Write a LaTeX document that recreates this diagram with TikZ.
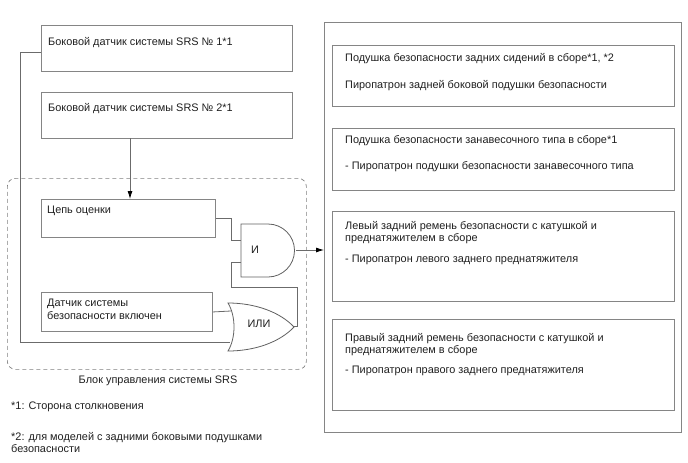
\documentclass[tikz,border=0pt]{standalone}
\usepackage{fontspec}
\setmainfont{Liberation Sans}
\usetikzlibrary{arrows.meta, positioning}

\begin{document}
\begin{tikzpicture}[
        x=1pt, y=-1pt,
        box node/.style={rectangle, draw=black!48, line width=0.9pt, inner sep=0pt, anchor=north west},
        label node/.style={inner sep=0pt, align=left, anchor=north west, text=black!88, font=\fontsize{10.9}{12.6}\selectfont},
        wire/.style={draw=black!58, line width=0.8pt},
        arrow/.style={wire, -{Latex[length=8pt, width=5pt, black]}},
        gate/.style={draw=black!62, line width=0.8pt, fill=white}
    ]
        \useasboundingbox (0,0) rectangle (688,463);

        % control unit outline
        \node[box node, dashed, dash pattern=on 4pt off 3pt, draw=black!50, line width=0.7pt, rounded corners=8pt, minimum width=299pt, minimum height=191pt] (unit) at (7,178) {};
        \node[label node, anchor=center] (unittext) at (158,381) {Блок управления системы SRS};

        % sensors and circuits on the left
        \node[box node, minimum width=251pt, minimum height=46pt] (sensorone) at (41,25) {};
        \node[box node, minimum width=251pt, minimum height=46pt] (sensortwo) at (41,92) {};
        \node[box node, minimum width=174pt, minimum height=38pt] (judge) at (41,199) {};
        \node[box node, minimum width=171pt, minimum height=39pt] (safing) at (41,292) {};
        \node[label node] (sensoronetext) at (48,37) {Боковой датчик системы SRS № 1*1};
        \node[label node] (sensortwotext) at (48,103.5) {Боковой датчик системы SRS № 2*1};
        \node[label node] (judgetext) at (47,206) {Цепь оценки};
        \node[label node] (safingtext) at (47,299) {Датчик системы\\безопасности включен};

        % squibs on the right
        \node[box node, minimum width=357pt, minimum height=410pt] (output) at (324,22) {};
        \node[box node, minimum width=342pt, minimum height=61pt] (rearbag) at (332,45) {};
        \node[box node, minimum width=342pt, minimum height=62pt] (curtain) at (332,128) {};
        \node[box node, minimum width=342pt, minimum height=90pt] (leftbelt) at (332,211) {};
        \node[box node, minimum width=342pt, minimum height=91pt] (rightbelt) at (332,319) {};
        \node[label node] (rearbagtext) at (345,53) {Подушка безопасности задних сидений в сборе*1, *2\\[14.2pt]Пиропатрон задней боковой подушки безопасности};
        \node[label node] (curtaintext) at (345,135) {Подушка безопасности занавесочного типа в сборе*1\\[14.2pt]- Пиропатрон подушки безопасности занавесочного типа};
        \node[label node] (leftbelttext) at (345,221) {Левый задний ремень безопасности с катушкой и\\преднатяжителем в сборе\\[7.6pt]- Пиропатрон левого заднего преднатяжителя};
        \node[label node] (rightbelttext) at (345,333) {Правый задний ремень безопасности с катушкой и\\преднатяжителем в сборе\\[6.8pt]- Пиропатрон правого заднего преднатяжителя};

        % footnotes
        \node[label node] (noteone) at (11,402) {*1: Сторона столкновения};
        \node[label node] (notetwo) at (11,432) {*2: для моделей с задними боковыми подушками\\безопасности};

        % gates
        \draw[gate] (241,224) -- (268,224) arc (90:-90:26.5pt) -- (241,277) -- cycle;
        \draw[gate] (228,303) .. controls (255,303) and (280,312) .. (294,327) .. controls (280,342) and (255,351) .. (228,351) .. controls (236,338) and (236,316) .. (228,303) -- cycle;
        \node[label node, anchor=center] (andtext) at (255,250) {И};
        \node[label node, anchor=center] (ortext) at (259,324) {ИЛИ};
        \coordinate (andinone) at (241,240);
        \coordinate (andintwo) at (241,262);
        \coordinate (andout) at (296,250);
        \coordinate (orinone) at (231,311);
        \coordinate (orintwo) at (230,342);
        \coordinate (orout) at (294,326);
        \coordinate (tap) at (130,138);
        \coordinate (rail) at (20,342);

        % connections
        \draw[arrow] (tap) -- (tap |- judge.north);
        \draw[wire] ([yshift=-4pt]sensorone.west) -| (rail) -- (orintwo);
        \draw[wire] (judge.east) -| (231,240) -- (andinone);
        \draw[wire] (safing.east) -- (orinone);
        \draw[wire] (andintwo) -| (231,287) -| (297,326) -- (orout);
        \draw[arrow] (andout) -- (andout -| output.west);
    \end{tikzpicture}
\end{document}
